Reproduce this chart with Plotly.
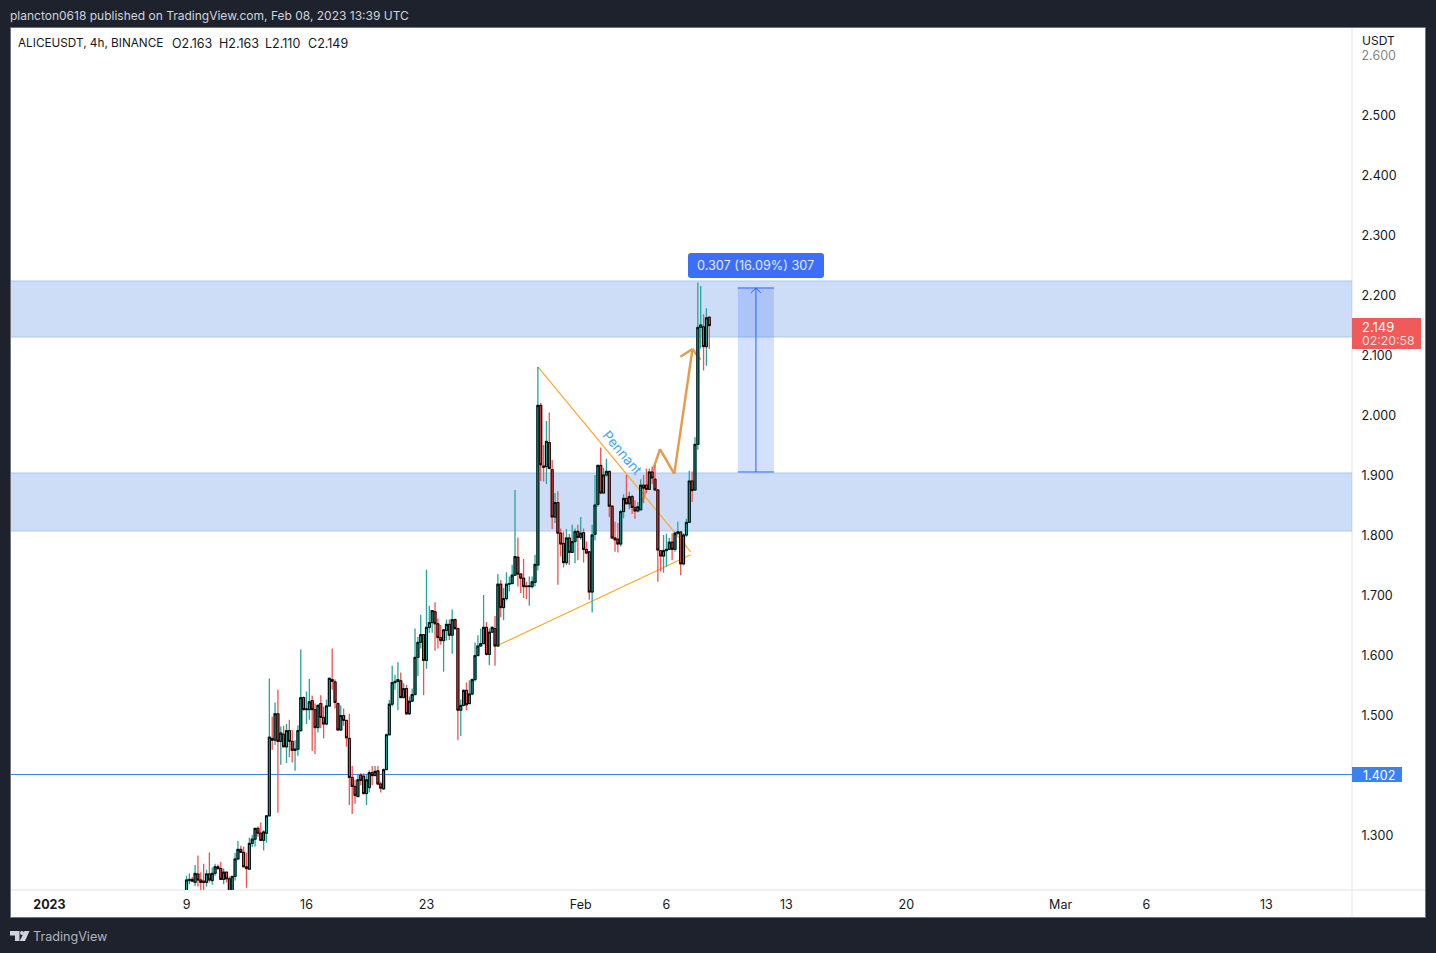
import pandas as pd
import plotly.graph_objects as go

W, H = 1436, 953
L, R, T, B = 11, 1352, 28, 890

first_bar = "2023-01-09 00:00"
opens = [1.203,1.224,1.226,1.221,1.235,1.225,1.223,1.221,1.235,1.224,1.236,1.247,1.244,1.226,1.238,1.227,1.196,1.231,1.260,1.276,
1.271,1.247,1.243,1.286,1.293,1.311,1.303,1.291,1.303,1.332,1.461,1.458,1.502,1.456,1.468,1.447,1.474,1.456,1.441,1.443,
1.474,1.529,1.509,1.509,1.524,1.509,1.479,1.519,1.496,1.485,1.515,1.559,1.555,1.519,1.475,1.499,1.491,1.461,1.396,1.381,
1.364,1.400,1.398,1.369,1.379,1.404,1.399,1.407,1.385,1.377,1.409,1.467,1.518,1.554,1.556,1.557,1.529,1.544,1.502,1.523,
1.534,1.596,1.621,1.634,1.591,1.646,1.654,1.672,1.652,1.629,1.624,1.641,1.651,1.633,1.659,1.644,1.508,1.516,1.541,1.519,
1.535,1.559,1.599,1.615,1.619,1.646,1.601,1.638,1.644,1.615,1.718,1.679,1.694,1.718,1.719,1.733,1.763,1.735,1.728,1.715,
1.714,1.714,1.721,1.750,2.016,1.915,1.914,1.954,1.909,1.830,1.854,1.803,1.786,1.754,1.795,1.771,1.789,1.806,1.796,1.804,
1.776,1.772,1.705,1.801,1.851,1.916,1.870,1.900,1.906,1.848,1.795,1.793,1.785,1.839,1.861,1.852,1.864,1.846,1.840,1.842,
1.883,1.883,1.876,1.905,1.893,1.875,1.774,1.765,1.774,1.776,1.788,1.776,1.803,1.805,1.752,1.800,1.821,1.890,1.875,1.951,
2.146,2.147,2.114,2.163]
highs = [1.232,1.236,1.230,1.250,1.266,1.238,1.252,1.242,1.271,1.246,1.252,1.251,1.255,1.244,1.239,1.231,1.231,1.270,1.290,1.282,
1.281,1.271,1.296,1.300,1.312,1.314,1.321,1.308,1.333,1.561,1.497,1.521,1.542,1.481,1.482,1.485,1.492,1.475,1.458,1.483,
1.609,1.531,1.539,1.560,1.532,1.519,1.518,1.533,1.514,1.526,1.563,1.611,1.559,1.521,1.516,1.511,1.492,1.502,1.415,1.392,
1.400,1.403,1.403,1.400,1.408,1.415,1.415,1.415,1.389,1.411,1.469,1.525,1.582,1.567,1.588,1.571,1.553,1.550,1.531,1.544,
1.644,1.630,1.667,1.635,1.742,1.682,1.674,1.688,1.661,1.650,1.643,1.659,1.659,1.676,1.661,1.646,1.526,1.543,1.554,1.558,
1.561,1.621,1.633,1.644,1.700,1.655,1.644,1.648,1.665,1.735,1.725,1.712,1.738,1.731,1.750,1.875,1.796,1.736,1.760,1.722,
1.731,1.731,1.767,2.080,2.020,1.950,1.990,2.004,1.925,1.870,1.873,1.811,1.806,1.810,1.802,1.817,1.811,1.817,1.830,1.811,
1.789,1.773,1.817,1.900,1.917,1.946,1.912,1.927,1.907,1.850,1.822,1.820,1.842,1.868,1.900,1.872,1.867,1.858,1.855,1.893,
1.900,1.911,1.911,1.914,1.916,1.876,1.775,1.800,1.802,1.795,1.803,1.806,1.822,1.806,1.803,1.827,1.907,1.906,1.963,2.221,
2.215,2.168,2.178,2.163]
lows = [1.190,1.218,1.222,1.215,1.214,1.208,1.208,1.214,1.221,1.217,1.232,1.242,1.225,1.218,1.221,1.185,1.190,1.224,1.258,1.270,
1.246,1.212,1.242,1.280,1.281,1.297,1.291,1.274,1.287,1.331,1.442,1.450,1.337,1.417,1.446,1.420,1.430,1.421,1.407,1.432,
1.472,1.507,1.485,1.492,1.440,1.435,1.471,1.478,1.461,1.483,1.514,1.542,1.511,1.474,1.474,1.482,1.447,1.350,1.335,1.352,
1.363,1.383,1.368,1.350,1.371,1.383,1.398,1.383,1.371,1.375,1.408,1.467,1.514,1.542,1.508,1.528,1.528,1.500,1.500,1.522,
1.533,1.565,1.611,1.533,1.577,1.637,1.637,1.607,1.611,1.617,1.572,1.624,1.625,1.602,1.642,1.458,1.465,1.514,1.508,1.518,
1.533,1.556,1.598,1.614,1.618,1.599,1.583,1.637,1.582,1.614,1.663,1.658,1.691,1.706,1.718,1.732,1.714,1.703,1.695,1.693,
1.682,1.711,1.714,1.741,1.890,1.889,1.885,1.909,1.810,1.820,1.717,1.764,1.746,1.750,1.750,1.770,1.753,1.758,1.792,1.754,
1.768,1.692,1.671,1.791,1.847,1.868,1.870,1.897,1.830,1.793,1.772,1.771,1.781,1.828,1.851,1.843,1.835,1.827,1.838,1.841,
1.853,1.870,1.875,1.885,1.874,1.722,1.739,1.737,1.747,1.775,1.758,1.772,1.800,1.733,1.749,1.797,1.820,1.855,1.874,1.942,
2.111,2.074,2.082,2.110]
closes = [1.225,1.226,1.223,1.236,1.225,1.221,1.221,1.235,1.225,1.236,1.247,1.244,1.226,1.238,1.227,1.196,1.231,1.260,1.276,1.271,
1.247,1.244,1.286,1.293,1.311,1.303,1.291,1.305,1.332,1.463,1.458,1.502,1.456,1.470,1.447,1.474,1.456,1.441,1.443,1.474,
1.529,1.509,1.510,1.522,1.509,1.479,1.516,1.496,1.485,1.515,1.561,1.556,1.521,1.475,1.499,1.491,1.462,1.396,1.381,1.366,
1.392,1.391,1.369,1.392,1.404,1.399,1.406,1.385,1.378,1.409,1.467,1.518,1.554,1.556,1.559,1.529,1.544,1.502,1.523,1.534,
1.596,1.621,1.634,1.591,1.646,1.654,1.674,1.652,1.629,1.624,1.642,1.651,1.633,1.659,1.644,1.508,1.516,1.541,1.517,1.535,
1.559,1.599,1.615,1.619,1.646,1.601,1.638,1.646,1.615,1.718,1.679,1.694,1.718,1.719,1.733,1.764,1.735,1.728,1.714,1.714,
1.715,1.722,1.751,2.016,1.917,1.913,1.956,1.911,1.830,1.854,1.803,1.785,1.754,1.795,1.771,1.789,1.806,1.796,1.803,1.776,
1.770,1.705,1.800,1.850,1.916,1.870,1.900,1.906,1.848,1.795,1.792,1.785,1.839,1.861,1.852,1.864,1.846,1.840,1.847,1.883,
1.878,1.876,1.905,1.895,1.875,1.775,1.765,1.774,1.776,1.788,1.776,1.803,1.805,1.752,1.800,1.821,1.890,1.874,1.951,2.146,
2.150,2.114,2.162,2.149]

price_ticks = [1.3,1.4,1.5,1.6,1.7,1.8,1.9,2.0,2.1,2.2,2.3,2.4,2.5,2.6]
date_ticks = ["2023-01-01","2023-01-09","2023-01-16","2023-01-23","2023-02-01","2023-02-06","2023-02-13","2023-02-20","2023-03-01","2023-03-06","2023-03-13"]
date_labels = ["<b>2023</b>","9","16","23","Feb","6","13","20","Mar","6","13"]

upper_band = (2.130, 2.2233)
lower_band = (1.8067, 1.9033)
support = 1.4008
measure_x = ("2023-02-10 04:00", "2023-02-12 06:30", "2023-02-11 05:20")
measure_y = (1.905, 2.2117)
chevron_x = ["2023-02-10 22:20", "2023-02-11 05:20", "2023-02-11 12:15"]
chevron_y = [2.2035, 2.2117, 2.2035]
pennant_top_x = ["2023-01-29 12:00", "2023-02-07 10:00"]
pennant_top_y = [2.080, 1.772]
pennant_low_x = ["2023-01-27 02:00", "2023-02-07 10:00"]
pennant_low_y = [1.615, 1.767]
path_x = ["2023-02-04 14:00", "2023-02-05 15:00", "2023-02-06 11:00", "2023-02-07 12:30"]
path_y = [1.855, 1.943, 1.902, 2.110]
head_x = ["2023-02-06 19:30", "2023-02-07 12:30", "2023-02-07 23:30"]
head_y = [2.097, 2.110, 2.092]

UP, DOWN = "#26a69a", "#ef5350"
BG = "#1e222d"
INK = "#131722"
BLUE = "#2962ff"
TAG_BLUE = "#3b82f0"
ORANGE = "#ffa726"
FONT = "Inter, Roboto, sans-serif"

times = pd.date_range(first_bar, periods=len(opens), freq="4h")
body_hi = [max(o, c) for o, c in zip(opens, closes)]
body_lo = [min(o, c) for o, c in zip(opens, closes)]


def px(x):
    return (x - L) / (R - L)


def py(y):
    return (B - y) / (B - T)


fig = go.Figure()
fig.add_trace(go.Candlestick(
    x=times, open=opens, high=highs, low=lows, close=closes,
    increasing=dict(line=dict(color=UP, width=1.3), fillcolor=UP),
    decreasing=dict(line=dict(color=DOWN, width=1.3), fillcolor=DOWN),
    hoverinfo="skip", showlegend=False))
fig.add_trace(go.Candlestick(
    x=times, open=opens, high=body_hi, low=body_lo, close=closes,
    increasing=dict(line=dict(color="#000000", width=1), fillcolor=UP),
    decreasing=dict(line=dict(color="#000000", width=1), fillcolor=DOWN),
    hoverinfo="skip", showlegend=False))

shapes = []


def paper_rect(x0, y0, x1, y1, color, layer="below", edge=None):
    line = dict(color=edge, width=1) if edge else dict(width=0)
    shapes.append(dict(type="rect", xref="paper", yref="paper", x0=px(x0), x1=px(x1), y0=py(y0), y1=py(y1),
                       fillcolor=color, line=line, layer=layer))


def paper_path(d_points, color, layer="above"):
    d = "M " + " L ".join(f"{px(a):.5f},{py(b):.5f}" for a, b in d_points) + " Z"
    shapes.append(dict(type="path", xref="paper", yref="paper", path=d, fillcolor=color,
                       line=dict(width=0), layer=layer))


def data_line(xs, ys, color, width):
    for i in range(len(xs) - 1):
        shapes.append(dict(type="line", xref="x", yref="y", x0=xs[i], x1=xs[i + 1], y0=ys[i], y1=ys[i + 1],
                           line=dict(color=color, width=width), layer="below"))


# white price and time panels
paper_rect(10.5, 27.5, 1425.5, 917.5, "#ffffff", edge="#6f737d")
shapes.append(dict(type="line", xref="paper", yref="paper", x0=px(R), x1=px(R), y0=py(T), y1=py(917),
                   line=dict(color="#e0e3eb", width=1), layer="below"))
shapes.append(dict(type="line", xref="paper", yref="paper", x0=px(L), x1=px(1425), y0=py(B), y1=py(B),
                   line=dict(color="#e0e3eb", width=1), layer="below"))

# supply / demand bands
for lo, hi in (upper_band, lower_band):
    shapes.append(dict(type="rect", xref="paper", yref="y", x0=0, x1=1, y0=lo, y1=hi,
                       fillcolor="rgba(33,100,220,0.22)", line=dict(width=0), layer="below"))
    for edge in (lo, hi):
        shapes.append(dict(type="line", xref="paper", yref="y", x0=0, x1=1, y0=edge, y1=edge,
                           line=dict(color="#a9c8f6", width=1), layer="below"))

# measure tool
shapes.append(dict(type="rect", xref="x", yref="y", x0=measure_x[0], x1=measure_x[1], y0=measure_y[0], y1=measure_y[1],
                   fillcolor="rgba(41,98,255,0.2)", line=dict(width=0), layer="below"))
data_line([measure_x[0], measure_x[1]], [measure_y[0], measure_y[0]], BLUE, 1)
data_line([measure_x[0], measure_x[1]], [measure_y[1], measure_y[1]], BLUE, 1)
data_line([measure_x[2], measure_x[2]], list(measure_y), BLUE, 1)
data_line(chevron_x, chevron_y, BLUE, 1)

# drawings
data_line(pennant_top_x, pennant_top_y, ORANGE, 1.2)
data_line(pennant_low_x, pennant_low_y, ORANGE, 1.2)
data_line(path_x, path_y, "#e8994a", 2.4)
data_line(head_x, head_y, "#e8994a", 2.4)

# support line
shapes.append(dict(type="line", xref="paper", yref="y", x0=0, x1=1, y0=support, y1=support,
                   line=dict(color=TAG_BLUE, width=1), layer="below"))

# price tags
paper_rect(R, 767, 1402, 782, TAG_BLUE, "above")
paper_rect(R, 318, 1421, 349, "#f05a58", "above")
paper_rect(1354, 47, 1424, 60, "rgba(255,255,255,0.45)", "above")

# rounded measure label
r = 3
x0, x1, y0, y1 = px(688), px(824), py(278), py(253)
rx, ry = r / (R - L), r / (B - T)
shapes.append(dict(type="path", xref="paper", yref="paper", layer="above", fillcolor="#3b6ffa", line=dict(width=0),
                   path=(f"M {x0 + rx},{y0} L {x1 - rx},{y0} Q {x1},{y0} {x1},{y0 + ry} L {x1},{y1 - ry} "
                         f"Q {x1},{y1} {x1 - rx},{y1} L {x0 + rx},{y1} Q {x0},{y1} {x0},{y1 - ry} "
                         f"L {x0},{y0 + ry} Q {x0},{y0} {x0 + rx},{y0} Z")))

# TradingView logo
LOGO = "#d1d4dc"
paper_path([(10, 931), (19.5, 931), (19.5, 941), (15, 941), (15, 935.5), (10, 935.5)], LOGO)
paper_path([(24.5, 931), (29.5, 931), (25, 941), (19.8, 941)], LOGO)
shapes.append(dict(type="circle", xref="paper", yref="paper", x0=px(20), x1=px(24), y0=py(935), y1=py(931),
                   fillcolor=LOGO, line=dict(width=0), layer="above"))

texts = []


def label(x, y, s, color=INK, size=12, anchor="left", **kw):
    texts.append(dict(xref="paper", yref="paper", x=px(x), y=py(y), text=s, showarrow=False,
                      xanchor=anchor, yanchor="middle", font=dict(family=FONT, size=size, color=color),
                      borderpad=0, **kw))


label(9, 15.5, "plancton0618 published on TradingView.com, Feb 08, 2023 13:39 UTC", "#d1d4dc", 12)
label(17, 43, "ALICEUSDT, 4h, BINANCE", INK, 11.75)
label(171, 43, "O2.163", INK, 12.5)
label(218, 43, "H2.163", INK, 12.5)
label(264, 43, "L2.110", INK, 12.5)
label(307, 43, "C2.149", INK, 12.5)
label(1361, 41, "USDT", INK, 12)
label(1361, 326.5, "2.149", "#ffffff", 13)
label(1361, 340.5, "02:20:58", "#fcdcdc", 12.3)
label(1362, 775, "1.402", "#ffffff", 12.5)
label(755.5, 265.5, "0.307 (16.09%) 307", "#e6ebff", 12.7, "center")
label(32, 936.5, "TradingView", "#b2b5be", 12.6)
texts.append(dict(xref="x", yref="y", x="2023-02-03 11:00", y=1.9367, text="Pennant", showarrow=False, textangle=50,
                  font=dict(family=FONT, size=13.5, color="#42a5f5")))

fig.update_layout(
    width=W, height=H, autosize=False,
    margin=dict(l=L, r=W - R, t=T, b=H - B),
    paper_bgcolor=BG, plot_bgcolor="rgba(0,0,0,0)",
    showlegend=False, shapes=shapes, annotations=texts, boxmode="overlay", boxgap=0.02,
    font=dict(family=FONT, size=12.5, color=INK),
    hovermode=False,
    xaxis=dict(type="date", range=["2022-12-29 18:14", "2023-03-18 00:00"], rangeslider=dict(visible=False),
               tickmode="array", tickvals=date_ticks, ticktext=date_labels, showgrid=False, zeroline=False,
               ticks="outside", ticklen=3, tickcolor="rgba(0,0,0,0)", tickangle=0,
               tickfont=dict(family=FONT, size=12.5, color=INK)),
    yaxis=dict(side="right", range=[1.2083, 2.645], tickmode="array", tickvals=price_ticks,
               ticktext=[f"{v:.3f}" for v in price_ticks], showgrid=False, zeroline=False,
               ticks="outside", ticklen=6, tickcolor="rgba(0,0,0,0)", ticklabelshift=1,
               tickfont=dict(family=FONT, size=12.5, color=INK)),
)

fig.write_html("out.html", config=dict(displayModeBar=False),
               post_script="document.body.style.margin='0';document.body.style.background='#1e222d';document.body.style.overflow='hidden';")
